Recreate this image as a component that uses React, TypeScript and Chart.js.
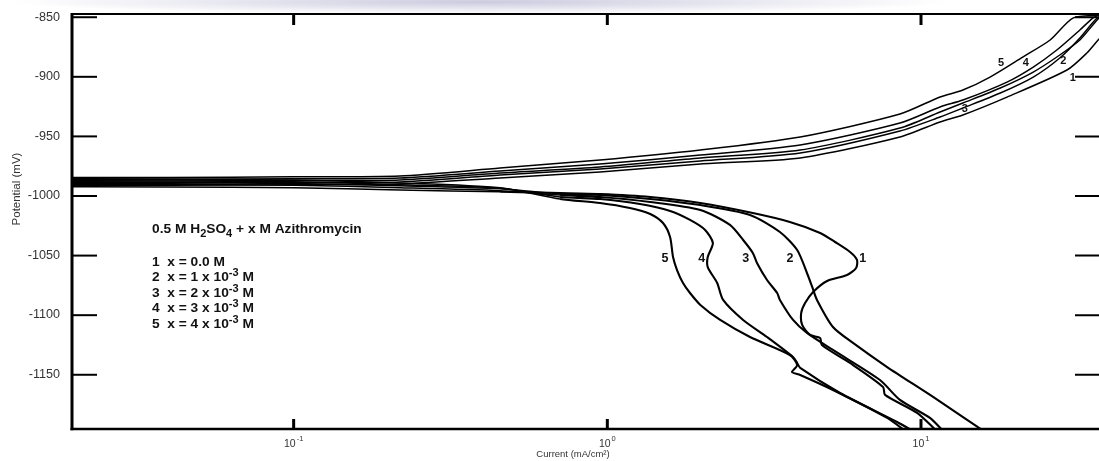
import React, { useEffect, useRef } from "react";
import { Chart, registerables } from "chart.js";

Chart.register(...registerables);

// ---------- axes ----------
const xMin = 0.01965;
const xMax = 38.04;
const yMin = -1195.5;
const yMax = -847.3;
const xTickValues = [0.1, 1, 10];
const xTickExponents = ["-1", "0", "1"];
const yTickValues = [-850, -900, -950, -1000, -1050, -1100, -1150];
const xTitle = "Current (mA/cm²)";
const yTitle = "Potential (mV)";

// ---------- curves (current mA/cm², potential mV), cathodic bottom -> Ecorr -> anodic top ----------
const c1Current = [11.2, 9.72, 7.68, 7.57, 5.94, 4.83, 4.77, 4.43, 4.18, 4.15, 4.27, 4.53, 5.02, 5.81, 6.21, 6.25, 5.94, 5.32, 4.77, 3.82, 2.91, 1.98, 1.37, 0.948, 0.707, 0.455, 0.218, 0.1, 0.04, 0.012,
  0.012, 0.04, 0.1, 0.218, 0.455, 0.948, 1.98, 4.12, 8.57, 11.5, 13.6, 18.8, 29.2, 33.8, 36.7, 40];
const c1Potential = [-1197, -1182, -1166.9, -1160.2, -1140.1, -1125, -1119.1, -1116.6, -1108.2, -1098.2, -1089.8, -1080.5, -1071.3, -1066.3, -1060.4, -1053.7, -1047, -1038.6, -1031, -1021.8, -1014.3, -1005.9, -1000.8, -998.3, -997.5, -996.5, -995, -993, -992.4, -991.9,
  -991.2, -990.9, -990.5, -989.9, -984.9, -979.9, -973.2, -968.1, -950.5, -937.9, -932, -917, -894.3, -880, -869.1, -859.1];

const c2Current = [15.8, 10.93, 7.8, 6.07, 5.24, 4.66, 4.5, 4.33, 4.03, 3.55, 2.85, 1.98, 1.37, 0.948, 0.707, 0.455, 0.218, 0.1, 0.04, 0.012,
  0.012, 0.04, 0.1, 0.218, 0.455, 0.948, 1.98, 4.12, 8.57, 11.5, 13.6, 17.9, 22.8, 27.7, 32.1, 35.3, 37.2, 39];
const c2Potential = [-1197, -1168.6, -1143.5, -1123.3, -1109.9, -1087.2, -1076.3, -1064.6, -1045.3, -1030.2, -1015.9, -1007.6, -1002.5, -999.2, -998.3, -994, -991.5, -989.5, -988.9, -988.4,
  -987.7, -987.4, -987, -986.6, -980.7, -975.7, -968.1, -961.4, -943, -929.5, -922, -909.4, -896, -881.7, -869.1, -856.5, -849.8, -846];

const c3Current = [11.75, 10.68, 8.57, 7.4, 5.24, 4.33, 3.91, 3.55, 3.48, 3.23, 3.0, 2.91, 2.71, 2.46, 1.98, 1.37, 0.948, 0.707, 0.455, 0.218, 0.1, 0.04, 0.012,
  0.012, 0.04, 0.1, 0.218, 0.455, 0.948, 1.98, 4.12, 8.57, 11.5, 13.6, 17.9, 22.8, 27.7, 32.1, 35.9, 38];
const c3Potential = [-1197, -1186.2, -1171.1, -1154.4, -1129.2, -1114.9, -1104, -1087.2, -1081.4, -1070.5, -1056.2, -1047.8, -1036.9, -1024.3, -1011.7, -1005, -1000.8, -999.2, -995.5, -993, -991, -990.4, -989.9,
  -989.2, -989, -988.7, -988.3, -982.4, -977.3, -970.6, -963.9, -945.5, -933.7, -926.2, -913.6, -900.2, -884.2, -867.4, -852.3, -848];

const c4Current = [9.4, 8.39, 5.52, 4.12, 4.03, 3.91, 3.23, 2.71, 2.34, 2.24, 2.09, 2.09, 2.17, 2.05, 1.835, 1.586, 1.27, 0.948, 0.707, 0.455, 0.218, 0.1, 0.04, 0.012,
  0.012, 0.04, 0.1, 0.218, 0.455, 0.948, 1.98, 4.12, 8.57, 11.5, 13.6, 18.8, 22.8, 27.1, 32.1, 35.3, 37.5];
const c4Potential = [-1197, -1189.6, -1165.3, -1144.3, -1140.1, -1135.1, -1118.3, -1104, -1087.2, -1073, -1059.6, -1051.2, -1039.4, -1028.5, -1020.1, -1012.6, -1006.7, -1002.5, -1000.8, -993.5, -990.5, -988, -987.4, -986.9,
  -986.2, -985.9, -985.5, -984.9, -979, -973.2, -965.6, -957.2, -938.8, -925.3, -919.5, -904.4, -891.8, -877.5, -860.7, -850.7, -847];

const c5Current = [8.9, 7.8, 5.24, 4.12, 3.88, 4.03, 3.82, 2.85, 2.29, 1.98, 1.835, 1.743, 1.668, 1.62, 1.585, 1.505, 1.37, 1.18, 0.948, 0.707, 0.455, 0.218, 0.1, 0.04, 0.012,
  0.012, 0.04, 0.1, 0.218, 0.455, 0.948, 1.98, 4.12, 8.57, 11.5, 13.6, 16.6, 21.1, 25.8, 30.5, 37];
const c5Potential = [-1197, -1186.2, -1162.8, -1150.2, -1147.7, -1141.8, -1133.4, -1118.3, -1104, -1091.4, -1081.4, -1073, -1062.1, -1051.2, -1034.4, -1022.7, -1015.1, -1010.1, -1005.9, -1002.5, -993, -989, -986.5, -985.9, -985.4,
  -984.7, -984.4, -983.9, -983.2, -976.5, -969.8, -961.4, -950.5, -931.2, -916.9, -911.1, -900.2, -883.4, -869.1, -850.7, -848.2];

// ---------- curve number labels ----------
const curveNames = ["1", "2", "3", "4", "5"];
const cathodicLabelCurrent = [6.52, 3.82, 2.76, 2.0, 1.527];
const cathodicLabelPotential = [-1052.4, -1052.4, -1052.4, -1052.4, -1052.4];
const anodicLabelCurrent = [30.5, 28.4, 13.8, 21.6, 18.0];
const anodicLabelPotential = [-901, -886.3, -927, -888.7, -888.2];

// ---------- legend text ----------
const legendTitle: [string, string][] = [["0.5 M H", "n"], ["2", "sub"], ["SO", "n"], ["4", "sub"], [" + x M Azithromycin", "n"]];
const legendLines: [string, string][][] = [
  [["1  x = 0.0 M", "n"]],
  [["2  x = 1 x 10", "n"], ["-3", "sup"], [" M", "n"]],
  [["3  x = 2 x 10", "n"], ["-3", "sup"], [" M", "n"]],
  [["4  x = 3 x 10", "n"], ["-3", "sup"], [" M", "n"]],
  [["5  x = 4 x 10", "n"], ["-3", "sup"], [" M", "n"]],
];

const FONT = '"Liberation Sans", Arial, Helvetica, sans-serif';

function toPoints(cur: number[], pot: number[]) {
  return cur.map((x, i) => ({ x, y: pot[i] }));
}

function drawRuns(ctx: CanvasRenderingContext2D, runs: [string, string][], x: number, y: number, size: number, sx: number) {
  ctx.save();
  ctx.translate(x, y);
  ctx.scale(sx, 1);
  let cx = 0;
  for (const [t, k] of runs) {
    const fs = k === "n" ? size : size * 0.8;
    ctx.font = `bold ${fs}px ${FONT}`;
    const dy = k === "sub" ? 4 : k === "sup" ? -5 : 0;
    ctx.textAlign = "left";
    ctx.textBaseline = "alphabetic";
    ctx.fillText(t, cx, dy);
    cx += ctx.measureText(t).width;
  }
  ctx.restore();
}

const decorPlugin = {
  id: "decor",
  afterDatasetsDraw(chart: any) {
    const { ctx, chartArea: a, scales } = chart;
    const xs = scales.x;
    const ys = scales.y;
    const seg = (x1: number, y1: number, x2: number, y2: number) => {
      ctx.beginPath();
      ctx.moveTo(x1, y1);
      ctx.lineTo(x2, y2);
      ctx.stroke();
    };
    ctx.save();
    ctx.strokeStyle = "#000";
    ctx.lineCap = "butt";
    // frame
    ctx.lineWidth = 2.2;
    seg(a.left, a.top, a.right + 10, a.top);
    ctx.lineWidth = 2.6;
    seg(a.left - 1.5, a.bottom, a.right + 10, a.bottom);
    ctx.lineWidth = 3;
    seg(a.left, a.top - 1, a.left, a.bottom + 1.3);
    // y ticks
    ctx.lineWidth = 2;
    for (const v of yTickValues) {
      const y = ys.getPixelForValue(v);
      seg(a.left, y, a.left + 25, y);
      seg(a.right - 28, y, a.right + 5, y);
    }
    // x ticks
    ctx.lineWidth = 3;
    for (const v of xTickValues) {
      const x = xs.getPixelForValue(v);
      seg(x, a.bottom, x, a.bottom - 10);
      seg(x, a.top, x, a.top + 11);
    }
    // y tick labels
    ctx.fillStyle = "#333";
    ctx.font = `12px ${FONT}`;
    ctx.textBaseline = "middle";
    for (const v of yTickValues) {
      const y = ys.getPixelForValue(v);
      ctx.save();
      ctx.translate(60, y);
      ctx.scale(1.05, 1);
      ctx.textAlign = "right";
      ctx.fillText(String(v), 0, 0);
      ctx.restore();
    }
    // x tick labels
    ctx.textBaseline = "alphabetic";
    xTickValues.forEach((v, i) => {
      const x = xs.getPixelForValue(v);
      ctx.font = `10.5px ${FONT}`;
      const w1 = ctx.measureText("10").width;
      ctx.font = `7.5px ${FONT}`;
      const w2 = ctx.measureText(xTickExponents[i]).width;
      const start = x - (w1 + w2 + 1) / 2;
      ctx.font = `10.5px ${FONT}`;
      ctx.textAlign = "left";
      ctx.fillText("10", start, 447);
      ctx.font = `7.5px ${FONT}`;
      ctx.fillText(xTickExponents[i], start + w1 + 1, 441);
    });
    // axis titles
    ctx.font = `9.5px ${FONT}`;
    ctx.textAlign = "center";
    ctx.fillText(xTitle, 573, 457);
    ctx.save();
    ctx.translate(20, 189);
    ctx.rotate(-Math.PI / 2);
    ctx.font = `11.5px ${FONT}`;
    ctx.textAlign = "center";
    ctx.fillText(yTitle, 0, 0);
    ctx.restore();

    // curve labels
    ctx.fillStyle = "#111";
    ctx.textAlign = "center";
    ctx.textBaseline = "middle";
    ctx.font = `bold 12.5px ${FONT}`;
    curveNames.forEach((n, i) => {
      ctx.fillText(n, xs.getPixelForValue(cathodicLabelCurrent[i]), ys.getPixelForValue(cathodicLabelPotential[i]));
    });
    ctx.font = `bold 11px ${FONT}`;
    curveNames.forEach((n, i) => {
      ctx.fillText(n, xs.getPixelForValue(anodicLabelCurrent[i]), ys.getPixelForValue(anodicLabelPotential[i]));
    });

    // legend block
    ctx.fillStyle = "#111";
    drawRuns(ctx, legendTitle, 152, 233, 12.5, 1.1);
    legendLines.forEach((runs, i) => {
      drawRuns(ctx, runs, 152, 265.5 + i * 15.6, 12.5, 1.1);
    });
    ctx.restore();
  },
};

export default function App() {
  const ref = useRef<HTMLCanvasElement>(null);
  useEffect(() => {
    const curves = [
      toPoints(c1Current, c1Potential),
      toPoints(c2Current, c2Potential),
      toPoints(c3Current, c3Potential),
      toPoints(c4Current, c4Potential),
      toPoints(c5Current, c5Potential),
    ];
    const chart = new Chart(ref.current as HTMLCanvasElement, {
      type: "scatter",
      data: {
        datasets: curves.map((pts, i) => ({
          label: curveNames[i],
          data: pts,
          showLine: true,
          borderColor: "#000",
          backgroundColor: "#000",
          borderWidth: 1.6,
          pointRadius: 0,
          tension: 0.25,
          clip: 0,
          segment: {
            borderWidth: (c: any) => (c.p0.parsed.y < -996 && c.p1.parsed.y < -996 ? 2.1 : 1.5),
          },
        })),
      },
      options: {
        animation: false,
        responsive: true,
        maintainAspectRatio: false,
        layout: { padding: { left: 72, top: 14, right: 7, bottom: 32 } },
        plugins: { legend: { display: false }, tooltip: { enabled: false } },
        scales: {
          x: { type: "logarithmic", min: xMin, max: xMax, display: false },
          y: { type: "linear", min: yMin, max: yMax, display: false },
        },
      },
      plugins: [decorPlugin],
    } as any);
    return () => chart.destroy();
  }, []);

  return (
    <div style={{ position: "fixed", left: 0, top: 0, width: 1099, height: 461, overflow: "hidden", background: "#fff" }}>
      <div
        style={{
          position: "absolute",
          left: 0,
          top: 0,
          width: 1099,
          height: 14,
          background: "radial-gradient(ellipse 470px 12px at 480px 2px, rgba(185,185,212,0.75), rgba(255,255,255,0))",
        }}
      />
      <div style={{ position: "absolute", left: 0, top: 0, width: 1110, height: 461 }}>
        <canvas ref={ref} />
      </div>
    </div>
  );
}
